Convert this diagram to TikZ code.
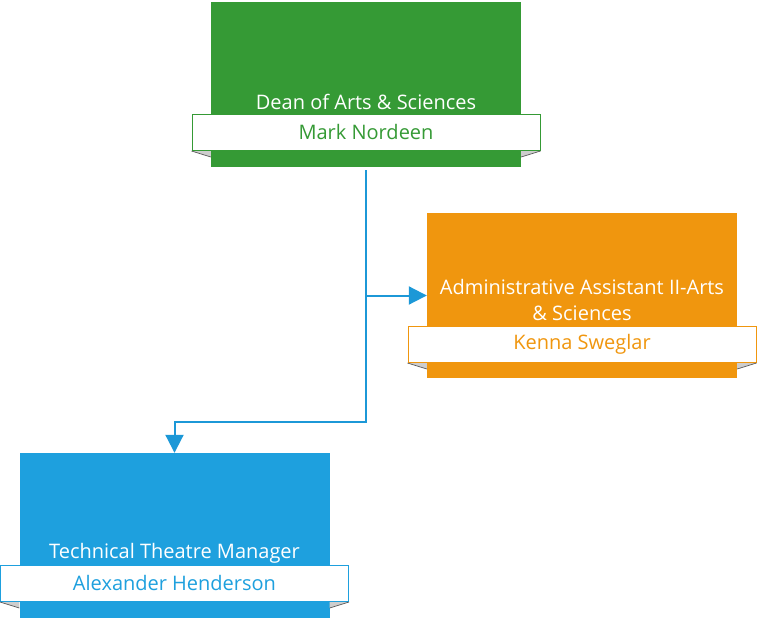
\documentclass[tikz,border=0pt]{standalone}
\usepackage{fontspec}
\setmainfont{Open Sans}
\usepackage{tikz}
\usetikzlibrary{arrows.meta,positioning,calc}
\definecolor{ocgreen}{RGB}{53,154,53}
\definecolor{ocorange}{RGB}{240,150,14}
\definecolor{ocblue}{RGB}{30,160,222}
\definecolor{oclink}{RGB}{28,152,215}
\definecolor{ocfold}{RGB}{205,205,205}
\tikzstyle{conn} = [line width=2pt, color=oclink, -{Triangle[length=18pt,width=18pt]}]
\tikzstyle{rolebox} = [rectangle, minimum width=310pt, minimum height=165pt, inner sep=0pt]
\tikzstyle{banner} = [rectangle, minimum width=348pt, minimum height=36pt, inner sep=0pt, fill=white, line width=1pt, font=\fontsize{20}{24}\selectfont]
\tikzstyle{title} = [text=white, align=center, font=\fontsize{20}{26}\selectfont]
\tikzstyle{foldedge} = [draw=black!65, line width=0.7pt]
% grey folds under the two ends of a name banner
\newcommand{\bannerfolds}[2]{%
  \fill[ocfold] ([yshift=-0.5pt]#2.south west) -- ([yshift=-0.5pt]#1.south west |- #2.south) -- ++(0,6) -- cycle;
  \draw[foldedge] ([yshift=-0.5pt]#2.south west) -- ($(#1.south west |- #2.south)+(0,6.5)$);
  \fill[ocfold] ([yshift=-0.5pt]#2.south east) -- ([yshift=-0.5pt]#1.south east |- #2.south) -- ++(0,6) -- cycle;
  \draw[foldedge] ([yshift=-0.5pt]#2.south east) -- ($(#1.south east |- #2.south)+(0,6.5)$);
}

\begin{document}
\begin{tikzpicture}[x=1pt,y=-1pt]
\useasboundingbox (0,0) rectangle (757,618);

% role boxes
\node[rolebox, fill=ocgreen] (dean) at (366,84.5) {};
\node[rolebox, fill=ocorange] (admin) at (582,295.5) {};
\node[rolebox, fill=ocblue] (tech) at (174.5,535.5) {};

% connectors
\coordinate (turn) at (366,422);
\draw[conn] ([yshift=-3pt]dean.south) -- (dean.south |- turn) -| (tech.north);
\draw[conn] (dean.south |- admin.west) -- (admin.west);

% name banners and their folds
\node[banner, draw=ocgreen, text=ocgreen] (deanname) at (366,132) {Mark Nordeen};
\node[title] (deantitle) at (366,102) {Dean of Arts \& Sciences};
\bannerfolds{dean}{deanname}

\node[banner, draw=ocorange, text=ocorange] (adminname) at (582,344) {Kenna Sweglar};
\node[title] (admintitle) at (582,300) {Administrative Assistant II-Arts\\\& Sciences};
\bannerfolds{admin}{adminname}

\node[banner, draw=ocblue, text=ocblue] (techname) at (174.5,583) {Alexander Henderson};
\node[title] (techtitle) at (174.5,553) {Technical Theatre Manager};
\bannerfolds{tech}{techname}

\end{tikzpicture}
\end{document}
